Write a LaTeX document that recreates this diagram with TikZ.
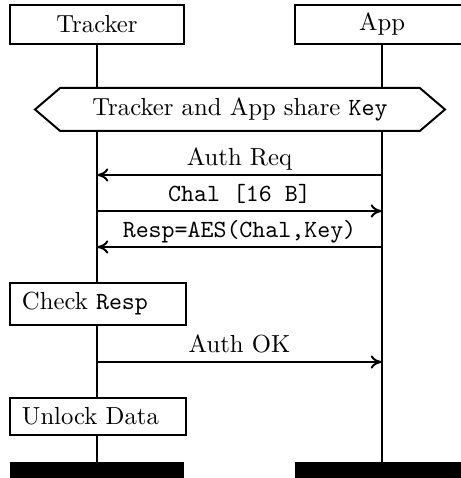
\documentclass[tikz,border=0pt]{standalone}
\usetikzlibrary{shapes.symbols,backgrounds,arrows.meta}
\tikzset{
  actor/.style={draw,fill=white,line width=0.8pt,minimum width=2.476cm,minimum height=0.555cm,inner sep=0pt},
  action/.style={draw,fill=white,line width=0.8pt,anchor=west,text width=61.5pt,align=left,inner xsep=4.86pt,inner ysep=0pt},
  msg/.style={line width=0.8pt,>={To[length=4.6pt,width=5.4pt]}},
  lbl/.style={anchor=base,yshift=4pt,inner sep=0pt},
  stopbar/.style={fill=black,minimum width=2.476cm,minimum height=0.5cm,anchor=north,inner sep=0pt}
}
\begin{document}
\begin{tikzpicture}
\useasboundingbox (0,0) rectangle (6.560,-6.802);
% actors
\node[actor] (tracker) at (1.380,-0.349) {Tracker};
\node[actor] (app) at (5.436,-0.349) {App};
\node[draw,fill=white,line width=0.8pt,shape=signal,signal to=west and east,signal pointer angle=81,
  minimum width=5.834cm,minimum height=0.612cm,inner sep=0pt] (share) at (3.415,-1.558)
  {Tracker and App share \texttt{Key}};
% messages
\coordinate (t1) at (1.380,-2.490); \coordinate (a1) at (5.436,-2.490);
\coordinate (t2) at (1.380,-3.003); \coordinate (a2) at (5.436,-3.003);
\coordinate (t3) at (1.380,-3.515); \coordinate (a3) at (5.436,-3.515);
\coordinate (t4) at (1.380,-5.151); \coordinate (a4) at (5.436,-5.151);
\draw[msg,<-] (t1) -- node[lbl]{Auth Req} (a1);
\draw[msg,->] (t2) -- node[lbl]{\texttt{Chal [16 B]}} (a2);
\draw[msg,<-] (t3) -- node[lbl]{\texttt{Resp=AES(Chal,Key)}} (a3);
\node[action,minimum height=0.598cm] (check) at (0.128,-4.326) {Check \texttt{Resp}};
\draw[msg,->] (t4) -- node[lbl]{Auth OK} (a4);
\node[action,minimum height=0.527cm] (unlock) at (0.128,-5.927) {Unlock Data};
% end of lifelines
\node[stopbar] (tbar) at (1.380,-6.574) {};
\node[stopbar] (abar) at (5.436,-6.574) {};
\begin{scope}[on background layer]
\draw[msg] (tracker) -- (tbar);
\draw[msg] (app) -- (abar);
\end{scope}
\end{tikzpicture}
\end{document}
